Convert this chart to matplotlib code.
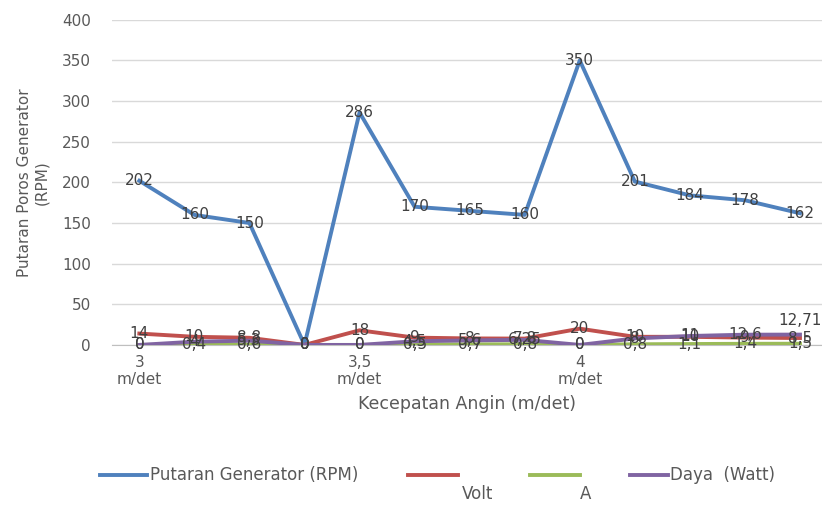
import matplotlib.pyplot as plt
from matplotlib.lines import Line2D

# wind speed categories (only every 4th point carries a label)
categories = ["3\nm/det", "", "", "", "3,5\nm/det", "", "", "", "4\nm/det", "", "", "", ""]

rpm = [202, 160, 150, 0, 286, 170, 165, 160, 350, 201, 184, 178, 162]
volt = [14, 10, 8.8, 0, 18, 9, 8, 7.8, 20, 10, 10, 9, 8.5]
amp = [0, 0.4, 0.6, 0, 0, 0.5, 0.7, 0.8, 0, 0.8, 1.1, 1.4, 1.5]
daya = [0, 4, 5.3, 0, 0, 4.5, 5.6, 6.25, 0, 8, 11, 12.6, 12.71]

c_blue = "#4F81BD"
c_red = "#C0504D"
c_green = "#9BBB59"
c_purple = "#8064A2"
c_text = "#595959"


def fmt(v):
    return f"{v:g}".replace(".", ",")


fig = plt.figure(figsize=(8.22, 5.08), dpi=100)
ax = fig.add_axes([0.136, 0.321, 0.864, 0.640])

x = list(range(len(rpm)))
series = [(rpm, c_blue), (volt, c_red), (amp, c_green), (daya, c_purple)]
for vals, col in series:
    ax.plot(x, vals, color=col, lw=2.8, solid_joinstyle="round", zorder=3)

# data labels centered on the points, like the original
for vals, col in series:
    for i, v in enumerate(vals):
        dy = 0
        if vals is daya and i == len(vals) - 1:
            dy = 10
        ax.annotate(fmt(v), (x[i], v), xytext=(0, dy), textcoords="offset points",
                    ha="center", va="center", fontsize=11, color="#404040", zorder=4)

ax.set_xlim(-0.5, 12.4)
ax.set_ylim(0, 400)
ax.set_yticks(range(0, 401, 50))
ax.set_xticks(x)
ax.set_xticklabels(categories)
ax.grid(axis="y", color="#D9D9D9", lw=1)
ax.set_axisbelow(True)
for s in ["top", "right", "left"]:
    ax.spines[s].set_visible(False)
ax.spines["bottom"].set_color("#BFBFBF")
ax.tick_params(axis="both", length=0, labelsize=11, labelcolor=c_text)
ax.tick_params(axis="y", pad=15)
ax.tick_params(axis="x", pad=7)
for lab in ax.get_xticklabels():
    lab.set_multialignment("center")

ax.set_xlabel("Kecepatan Angin (m/det)", fontsize=12.5, color=c_text, labelpad=6)
ax.set_ylabel("Putaran Poros Generator\n(RPM)", fontsize=11, color=c_text, labelpad=9)

# legend drawn by hand so the wrapped names sit below the keys
ly = 1 - 475 / 508
keys = [(100, 147, c_blue), (408, 458, c_red), (530, 580, c_green), (630, 668, c_purple)]
for x0, x1, col in keys:
    fig.add_artist(Line2D([x0 / 822, x1 / 822], [ly, ly], color=col, lw=2.8,
                          transform=fig.transFigure))
fig.text(150 / 822, ly, "Putaran Generator (RPM)", fontsize=12, color=c_text, va="center")
fig.text(670 / 822, ly, "Daya  (Watt)", fontsize=12, color=c_text, va="center")
fig.text(478 / 822, 1 - 494 / 508, "Volt", fontsize=12, color=c_text, va="center", ha="center")
fig.text(586 / 822, 1 - 494 / 508, "A", fontsize=12, color=c_text, va="center", ha="center")

fig.savefig("out.png", dpi=100)
